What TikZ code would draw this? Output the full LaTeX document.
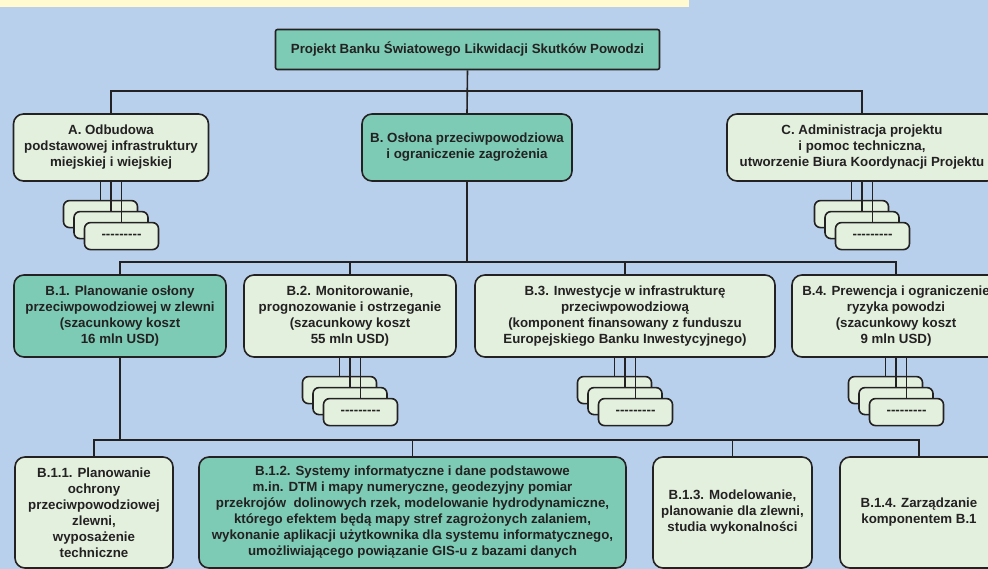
\documentclass[tikz,border=0pt]{standalone}
\usepackage{fontspec}
\setmainfont{Liberation Sans}
\usepackage{xcolor}
\definecolor{bgblue}{RGB}{185,208,236}
\definecolor{creamy}{RGB}{255,250,208}
\definecolor{tealbox}{RGB}{125,203,181}
\definecolor{palebox}{RGB}{227,240,222}
\definecolor{darkline}{RGB}{35,33,33}
\usepackage{tikz}
\usetikzlibrary{positioning}

\begin{document}
\begin{tikzpicture}[
  x=1pt,y=-1pt,
  every node/.style={font=\bfseries\fontsize{13.3}{16}\selectfont,text=darkline},
  box/.style={rectangle,draw=darkline,line width=1.6pt,fill=palebox,rounded corners=10pt,
              align=center,inner sep=0pt},
  mainbox/.style={box,fill=tealbox},
  stackbox/.style={box,rounded corners=6pt,minimum width=74pt,minimum height=27pt},
  conn/.style={darkline,line width=1.6pt},
]
\clip (0,0) rectangle (988,569);
\fill[bgblue] (0,0) rectangle (988,569);
\fill[creamy] (0,0) rectangle (689,7);

\node[mainbox,rounded corners=2pt,minimum width=384,minimum height=40] (top) at (467.5,49.5)
  {Projekt Banku Światowego Likwidacji Skutków Powodzi};

\node[box,     minimum width=195,minimum height=67] (A) at (111,147.5)
  {A. Odbudowa\\podstawowej infrastruktury\\miejskiej i wiejskiej};
\node[mainbox, minimum width=210,minimum height=67] (B) at (467,147.5)
  {B. Osłona przeciwpowodziowa\\i ograniczenie zagrożenia};
\node[box,     minimum width=270,minimum height=67] (C) at (862,147.5)
  {C. Administracja projektu\\i pomoc techniczna,\\utworzenie Biura Koordynacji Projektu};

\node[mainbox, minimum width=212,minimum height=82] (B1) at (120,316)
  {B.1. Planowanie osłony\\przeciwpowodziowej w zlewni\\(szacunkowy koszt\\16 mln USD)};
\node[box,     minimum width=212,minimum height=82] (B2) at (350,316)
  {B.2. Monitorowanie,\\prognozowanie i ostrzeganie\\(szacunkowy koszt\\55 mln USD)};
\node[box,     minimum width=300,minimum height=82] (B3) at (625,316)
  {B.3. Inwestycje w infrastrukturę\\przeciwpowodziową\\(komponent finansowany z funduszu\\Europejskiego Banku Inwestycyjnego)};
\node[box,     minimum width=208,minimum height=82] (B4) at (896,316)
  {B.4. Prewencja i ograniczenie\\ryzyka powodzi\\(szacunkowy koszt\\9 mln USD)};

\node[box,     minimum width=158,minimum height=111] (B11) at (94,512.5)
  {B.1.1. Planowanie\\ochrony\\przeciwpowodziowej\\zlewni,\\wyposażenie\\techniczne};
\node[mainbox, minimum width=427,minimum height=111] (B12) at (412.5,512.5)
  {B.1.2. Systemy informatyczne i dane podstawowe\\m.in. DTM i mapy numeryczne, geodezyjny pomiar\\przekrojów\ \ dolinowych rzek, modelowanie hydrodynamiczne,\\którego efektem będą mapy stref zagrożonych zalaniem,\\wykonanie aplikacji użytkownika dla systemu informatycznego,\\umożliwiającego powiązanie GIS-u z bazami danych};
\node[box,     minimum width=159,minimum height=111] (B13) at (732.5,512.5)
  {B.1.3. Modelowanie,\\planowanie dla zlewni,\\studia wykonalności};
\node[box,     minimum width=158,minimum height=111] (B14) at (919,512.5)
  {B.1.4. Zarządzanie\\komponentem B.1};

\foreach \p in {A,C,B2,B3,B4} {
  \node[stackbox, below=18pt of \p.south, xshift=-10.5pt] (\p1) {};
  \node[stackbox, below=29pt of \p.south]                 (\p2) {};
  \node[stackbox, below=40pt of \p.south, xshift=10.5pt]  (\p3) {-{}-{}-{}-{}-{}-{}-{}-{}-};
  \draw[conn] (\p1.north) -- (\p1.north |- \p.south);
  \draw[conn] (\p2.north) -- (\p2.north |- \p.south);
  \draw[conn] (\p3.north) -- (\p3.north |- \p.south);
}

\coordinate[below=21pt of top.south] (bus1);
\coordinate[below=80pt of B.south]   (bus2);
\coordinate[below=82pt of B1.south]  (bus3);

\draw[conn] (top.south) -- (B.north);
\draw[conn] (A.north) |- (bus1) -| (C.north);

\draw[conn] (B.south) -- (bus2);
\draw[conn] (B1.north) |- (bus2) -| (B4.north);
\draw[conn] (B2.north) -- (B2.north |- bus2);
\draw[conn] (B3.north) -- (B3.north |- bus2);

\draw[conn] (B1.south) -- (bus3);
\draw[conn] (B11.north) |- (bus3) -| (B14.north);
\draw[conn] (B12.north) -- (B12.north |- bus3);
\draw[conn] (B13.north) -- (B13.north |- bus3);

\end{tikzpicture}
\end{document}
